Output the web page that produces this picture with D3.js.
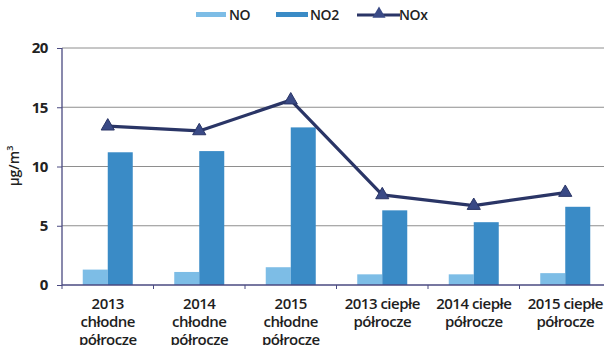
<!DOCTYPE html>
<html><head><meta charset="utf-8">
<script src="https://cdn.jsdelivr.net/npm/d3@7"></script>
<style>
html,body{margin:0;padding:0;background:#fff;}
svg{display:block;font-family:"Open Sans",sans-serif;}
</style></head><body>
<svg id="c" width="604" height="345"></svg>
<script>
const categories = [
  ["2013","chłodne","półrocze"],
  ["2014","chłodne","półrocze"],
  ["2015","chłodne","półrocze"],
  ["2013 ciepłe","półrocze"],
  ["2014 ciepłe","półrocze"],
  ["2015 ciepłe","półrocze"]
];
const seriesNames = ["NO","NO2","NOx"];
const noValues  = [1.3, 1.1, 1.5, 0.9, 0.9, 1.0];
const no2Values = [11.2, 11.3, 13.3, 6.3, 5.3, 6.6];
const noxValues = [13.4, 13.0, 15.6, 7.6, 6.7, 7.8];
const yTicks = [0, 5, 10, 15, 20];

const colors = {NO:"#7dbde6", NO2:"#3a8bc6", NOx:"#2a3566"};
const svg = d3.select("#c");
const L = 62, R = 611, T = 48, B = 285;
const idx = d3.range(categories.length);
const x = d3.scaleBand().domain(idx).range([L, R]).paddingInner(0).paddingOuter(0);
const y = d3.scaleLinear().domain([0, 20]).range([B, T]);
const barW = 25;

// gridlines
svg.append("g").selectAll("line").data(yTicks.filter(d=>d>0)).join("line")
  .attr("x1", L).attr("x2", 604).attr("y1", d=>y(d)).attr("y2", d=>y(d))
  .attr("stroke", "#8e8e8e").attr("stroke-width", 1);

// bars
svg.append("g").selectAll("rect").data(idx).join("rect")
  .attr("x", i => x(i) + x.bandwidth()/2 - barW)
  .attr("width", barW).attr("y", i => y(noValues[i]))
  .attr("height", i => B - y(noValues[i])).attr("fill", colors.NO);
svg.append("g").selectAll("rect").data(idx).join("rect")
  .attr("x", i => x(i) + x.bandwidth()/2)
  .attr("width", barW).attr("y", i => y(no2Values[i]))
  .attr("height", i => B - y(no2Values[i])).attr("fill", colors.NO2);

// axes
const yAxis = d3.axisLeft(y).tickValues(yTicks).tickSize(5).tickPadding(9);
const gy = svg.append("g").attr("transform", `translate(${L},0)`).call(yAxis);
gy.select(".domain").attr("stroke", "#4a4a80").attr("stroke-width", 1.3).attr("d", `M0,${T}V${B}`);
gy.selectAll(".tick line").attr("stroke", "#4a4a80");
gy.selectAll(".tick text").attr("font-size", 15).attr("font-weight", 700).attr("fill", "#222")
  .attr("letter-spacing", -0.4).attr("font-family", "'Open Sans',sans-serif");

svg.append("line").attr("x1", L).attr("x2", 604).attr("y1", B).attr("y2", B)
  .attr("stroke", "#4a4a80").attr("stroke-width", 1.3);
svg.append("g").selectAll("line").data(idx).join("line")
  .attr("x1", i => x(i)).attr("x2", i => x(i)).attr("y1", B).attr("y2", B+4)
  .attr("stroke", "#4a4a80");

// category labels
const lab = svg.append("g").selectAll("text").data(idx).join("text")
  .attr("x", i => x(i) + x.bandwidth()/2).attr("y", 309)
  .attr("text-anchor", "middle").attr("font-size", 15).attr("font-weight", 600)
  .attr("fill", "#1e1e1e").attr("letter-spacing", -0.5);
lab.selectAll("tspan").data(i => categories[i]).join("tspan")
  .attr("x", function(){ return d3.select(this.parentNode).attr("x"); })
  .attr("dy", (d, j) => j === 0 ? 0 : 18).text(d => d);

// y label
svg.append("text").attr("transform", "translate(19,166) rotate(-90)")
  .attr("text-anchor", "middle").attr("font-size", 14).attr("font-weight", 600).attr("fill", "#222")
  .html('µg/m<tspan dy="-6" font-size="9">3</tspan>');

// line
const line = d3.line().x(i => x(i) + x.bandwidth()/2).y(i => y(noxValues[i]));
svg.append("path").datum(idx).attr("d", line).attr("fill", "none")
  .attr("stroke", colors.NOx).attr("stroke-width", 3.2).attr("stroke-linejoin", "round");
const tri = d3.symbol().type(d3.symbolTriangle).size(75);
svg.append("g").selectAll("path").data(idx).join("path")
  .attr("transform", i => `translate(${x(i)+x.bandwidth()/2},${y(noxValues[i])})`)
  .attr("d", tri).attr("fill", "#3a4a86").attr("stroke", colors.NOx).attr("stroke-width", 1);

// legend
const lg = svg.append("g");
lg.append("rect").attr("x", 196).attr("y", 12).attr("width", 30).attr("height", 5).attr("fill", colors.NO);
lg.append("text").attr("x", 229).attr("y", 20).text(seriesNames[0]);
lg.append("rect").attr("x", 276).attr("y", 12).attr("width", 32).attr("height", 5).attr("fill", colors.NO2);
lg.append("text").attr("x", 310).attr("y", 20).text(seriesNames[1]);
lg.append("line").attr("x1", 357).attr("x2", 400).attr("y1", 15).attr("y2", 15)
  .attr("stroke", colors.NOx).attr("stroke-width", 3);
lg.append("path").attr("transform", "translate(379,14)").attr("d", tri).attr("fill", "#3a4a86");
lg.append("text").attr("x", 399).attr("y", 20).text(seriesNames[2]);
lg.selectAll("text").attr("font-size", 14).attr("font-weight", 600).attr("fill", "#222").attr("letter-spacing", -0.4);
</script>
</body></html>
